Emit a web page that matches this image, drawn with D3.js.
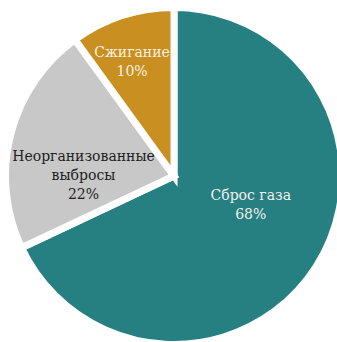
<!DOCTYPE html>
<html>
<head>
<meta charset="utf-8">
<script src="https://cdn.jsdelivr.net/npm/d3@7"></script>
<style>
  html, body { margin: 0; padding: 0; background: #ffffff; }
  svg { display: block; }
</style>
</head>
<body>
<div id="chart"></div>
<script>
// Methane emission sources, share of total (%)
const categories = ["Сброс газа", "Неорганизованные выбросы", "Сжигание"];
const shares = [68, 22, 10];
const labelLines = [["Сброс газа"], ["Неорганизованные", "выбросы"], ["Сжигание"]];
const sliceColors = ["#267f81", "#c8c8c8", "#c98f20"];
const labelColors = ["#f3f1ea", "#1e1e1e", "#f6f0e2"];

const width = 337, height = 342;
const cx = 174, cy = 176;
const radius = 168.5;       // path radius; white stroke trims the visible edge
const gap = 7;              // white separator width between slices

// label anchors: polar placement (angle in degrees clockwise from 12 o'clock, distance from centre)
const labelAnchors = [
  { angle: 110.6, dist: 82 },
  { angle: 270.6, dist: 90.5 },
  { angle: 339.8, dist: 121.5 }
];

const svg = d3.select("#chart").append("svg")
  .attr("width", width)
  .attr("height", height);

const g = svg.append("g").attr("transform", `translate(${cx},${cy})`);

const data = categories.map((c, i) => ({ name: c, value: shares[i], lines: labelLines[i], i }));

const pie = d3.pie().sort(null).value(d => d.value).startAngle(0).endAngle(2 * Math.PI);
const arc = d3.arc().innerRadius(0).outerRadius(radius);

const arcs = pie(data);

g.selectAll("path.slice")
  .data(arcs)
  .join("path")
  .attr("class", "slice")
  .attr("d", arc)
  .attr("fill", d => sliceColors[d.data.i])
  .attr("stroke", "#ffffff")
  .attr("stroke-width", gap)
  .attr("stroke-linejoin", "miter");

const lineH = 19;
const labels = g.selectAll("text.label")
  .data(arcs)
  .join("text")
  .attr("class", "label")
  .attr("text-anchor", "middle")
  .attr("font-family", "'DejaVu Serif', serif")
  .attr("font-size", 14)
  .attr("fill", d => labelColors[d.data.i])
  .each(function(d) {
    const a = labelAnchors[d.data.i];
    const rad = a.angle * Math.PI / 180;
    const x = Math.sin(rad) * a.dist;
    const y = -Math.cos(rad) * a.dist;
    const lines = d.data.lines.concat([d.data.value + "%"]);
    const top = y - (lines.length - 1) * lineH / 2;
    d3.select(this).selectAll("tspan")
      .data(lines)
      .join("tspan")
      .attr("x", x)
      .attr("y", (t, k) => top + k * lineH)
      .attr("dy", "0.35em")
      .text(t => t);
  });
</script>
</body>
</html>
